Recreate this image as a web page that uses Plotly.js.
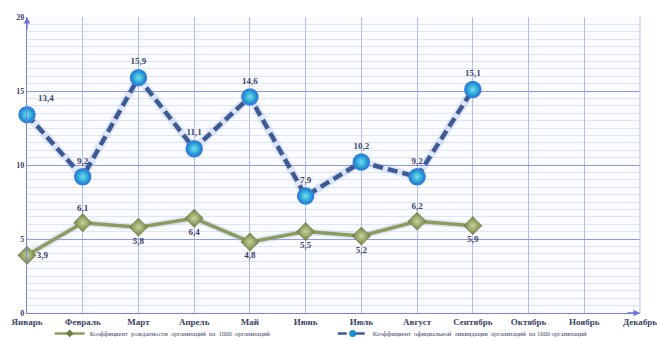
<!DOCTYPE html>
<html><head><meta charset="utf-8">
<script src="https://cdn.plot.ly/plotly-3.0.1.min.js"></script>
<style>html,body{margin:0;padding:0;background:#fff}</style>
</head><body><div id="chart" style="width:657px;height:340px"></div>
<script>
const months = ["Январь","Февраль","Март","Апрель","Май","Июнь","Июль","Август","Сентябрь","Октябрь","Ноябрь","Декабрь"];
const birthRate = [3.9, 6.1, 5.8, 6.4, 4.8, 5.5, 5.2, 6.2, 5.9];
const liquidationRate = [13.4, 9.2, 15.9, 11.1, 14.6, 7.9, 10.2, 9.2, 15.1];
const birthName = "Коэффициент  рождаемости  организаций  на  1000  организаций";
const liqName = "Коэффициент  официальной  ликвидации  организаций  на 1000 организаций";
const yTicks = [0, 5, 10, 15, 20];

const birthPos = ["middle right","top center","bottom center","bottom center","bottom center","bottom center","bottom center","top center","bottom center"];
const liqPos = ["top right","top center","top center","top center","top center","top center","top center","top center","top center"];
const x9 = months.slice(0, birthRate.length);
const serif = "Liberation Serif, DejaVu Serif, serif";
const lblFont = {family:serif, size:9, color:"#3a4468", weight:"bold"};

const traces = [
  {x:x9, y:birthRate, type:"scatter", mode:"lines", hoverinfo:"skip", showlegend:false,
   line:{color:"rgba(170,180,235,0.3)", width:7}},
  {x:x9, y:liquidationRate, type:"scatter", mode:"lines", hoverinfo:"skip", showlegend:false,
   line:{color:"rgba(100,130,230,0.18)", width:8}},
  {x:x9, y:birthRate, name:birthName, type:"scatter", mode:"lines+markers+text", showlegend:false,
   line:{color:"#8c9c5c", width:3.5},
   marker:{symbol:"diamond", size:14, color:"#6f7f3f", gradient:{type:"radial", color:"#c7d49a"}, line:{color:"#5f6f35", width:0.5}},
   text:birthRate, texttemplate:"%{y:.1f}", textposition:birthPos, textfont:lblFont, cliponaxis:false},
  {x:x9, y:liquidationRate, name:liqName, type:"scatter", mode:"lines+markers+text", showlegend:false,
   line:{color:"#3d5a92", width:4.5, dash:"10px,5px"},
   marker:{symbol:"circle", size:16, color:"#0f7fc0", gradient:{type:"radial", color:"#6ee0f5"}, line:{color:"#3a7de8", width:1.5}},
   text:liquidationRate, texttemplate:"%{y:.1f}", textposition:liqPos, textfont:lblFont, cliponaxis:false},
  {x:[null], y:[null], name:birthName, type:"scatter", mode:"lines+markers",
   line:{color:"#8c9c5c", width:2.5}, marker:{symbol:"diamond", size:6, color:"#6f7f3f"}},
  {x:[null], y:[null], name:liqName, type:"scatter", mode:"lines+markers",
   line:{color:"#3d5a92", width:2.5, dash:"dash"}, marker:{symbol:"circle", size:7, color:"#1a90d0"}}
];

const layout = {
  width:657, height:340,
  margin:{l:27, r:17, t:17, b:27, autoexpand:false},
  paper_bgcolor:"#ffffff", plot_bgcolor:"#fbfcff",
  separators:", ",
  showlegend:true,
  legend:{orientation:"h", x:0.037, xanchor:"left", y:-0.069, yanchor:"middle",
          font:{family:serif, size:6.5, color:"#3a4468"},
          bgcolor:"rgba(0,0,0,0)", entrywidth:238, itemwidth:30, tracegroupgap:0},
  xaxis:{type:"category", categoryarray:months, categoryorder:"array", range:[0, 11],
         showgrid:true, gridcolor:"#b4bce8", gridwidth:1,
         showline:true, linecolor:"#7b80dc", linewidth:1.2, mirror:false,
         tickfont:{family:serif, size:9, color:"#3a4468", weight:"bold"},
         ticks:"", ticklen:0, zeroline:false, fixedrange:true},
  yaxis:{range:[0,20], tickvals:yTicks, ticktext:yTicks.map(String),
         showgrid:true, gridcolor:"#8f9ae6", gridwidth:1,
         minor:{dtick:0.5, showgrid:true, gridcolor:"#dfe4f7", gridwidth:1},
         showline:true, linecolor:"#7b80dc", linewidth:1.2,
         tickfont:{family:serif, size:8, color:"#3a4468", weight:"bold"},
         ticks:"", zeroline:false, fixedrange:true},
  shapes:[
    {type:"line", xref:"paper", yref:"paper", x0:1, x1:1, y0:0, y1:1, line:{color:"#b4bce8", width:1}}
  ],
  annotations:[
    {xref:"paper", yref:"paper", x:0, y:1.0, ax:0, ay:14, showarrow:true,
     arrowhead:2, arrowsize:1, arrowwidth:1.3, arrowcolor:"#6f74d8", text:""},
    {xref:"paper", yref:"paper", x:1.0, y:0, ax:-14, ay:0, showarrow:true,
     arrowhead:2, arrowsize:1, arrowwidth:1.3, arrowcolor:"#6f74d8", text:""}
  ]
};
Plotly.newPlot("chart", traces, layout, {displayModeBar:false, staticPlot:true});
</script></body></html>
